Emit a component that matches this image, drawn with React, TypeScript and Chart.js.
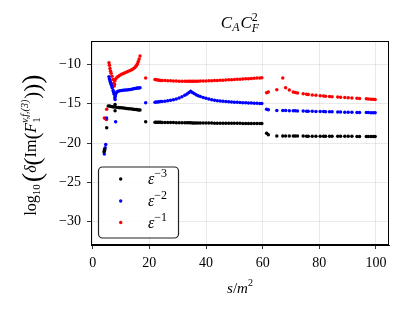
import React, { useEffect, useRef } from "react";
import { Chart, registerables } from "chart.js";

Chart.register(...registerables);

// ---------- data ----------
// near-threshold points (per series)
const thrBlackS = [4.0, 4.2, 4.94, 5.5, 6.0, 6.5, 7.0, 7.5, 7.9, 7.9, 8.3, 9.0, 9.6, 10.2, 10.8, 11.4, 12.0, 12.6, 13.2, 13.8, 14.4, 14.9, 15.4, 15.8, 16.3, 16.7];
const thrBlackY = [-21.1, -20.8, -18.05, -15.3, -15.3, -15.35, -15.38, -15.4, -15.1, -15.9, -15.45, -15.48, -15.5, -15.52, -15.55, -15.58, -15.6, -15.63, -15.65, -15.68, -15.7, -15.72, -15.74, -15.76, -15.78, -15.8];

const thrBlueS = [4.1, 4.2, 4.4, 4.6, 4.9, 5.75, 5.9, 6.1, 6.3, 6.5, 6.7, 6.9, 7.2, 7.4, 7.6, 7.8, 7.9, 8.0, 8.2, 8.5, 9.0, 9.6, 10.2, 10.8, 11.4, 12.0, 12.6, 13.2, 13.8, 14.4, 14.9, 15.4, 15.8, 16.3, 16.7, 8.1];
const thrBlueY = [-21.4, -21.0, -20.6, -20.2, -16.8, -11.56, -11.85, -12.1, -12.3, -12.5, -12.75, -12.96, -13.3, -13.55, -13.8, -14.2, -14.45, -14.0, -13.7, -13.5, -13.4, -13.35, -13.3, -13.28, -13.26, -13.23, -13.2, -13.17, -13.14, -13.1, -13.05, -13.02, -13.0, -12.98, -12.96, -17.3];

const thrRedS = [4.1, 4.5, 4.9, 4.94, 5.75, 5.9, 6.1, 6.3, 6.5, 6.8, 7.1, 7.4, 7.6, 7.7, 7.8, 7.9, 8.3, 8.7, 9.1, 9.6, 10.2, 10.8, 11.4, 12.0, 12.6, 13.2, 13.8, 14.3, 14.8, 15.2, 15.5, 15.8, 16.1, 16.4, 16.7];
const thrRedY = [-16.8, -16.9, -17.0, -15.7, -9.78, -10.1, -10.5, -10.85, -11.1, -11.5, -11.9, -12.4, -12.75, -12.5, -12.1, -11.9, -11.75, -11.6, -11.5, -11.38, -11.25, -11.15, -11.05, -10.95, -10.85, -10.75, -10.65, -10.55, -10.4, -10.25, -10.1, -9.9, -9.6, -9.3, -8.9];

// main region, 18 < s/m^2 < 60
const sMainA = [18.7, 22, 22.5, 23, 23.5, 24, 24.5, 25.5, 26.5, 27.5, 28.5, 29.5, 30.5, 31.5, 32.5, 33.3, 34, 34.6, 35.2, 35.8, 36.5, 37.2, 38, 39, 40, 41, 42, 43, 44, 45, 46, 47, 48, 49, 50, 51, 52, 53, 54, 55, 56, 57, 58, 59, 59.7];
const redA = [-11.7, -11.92, -11.95, -11.97, -12.0, -12.02, -12.03, -12.05, -12.07, -12.08, -12.1, -12.1, -12.12, -12.12, -12.13, -12.13, -12.13, -12.13, -12.13, -12.13, -12.12, -12.12, -12.11, -12.1, -12.09, -12.08, -12.06, -12.05, -12.03, -12.01, -11.99, -11.97, -11.95, -11.93, -11.9, -11.88, -11.86, -11.84, -11.82, -11.8, -11.78, -11.76, -11.73, -11.71, -11.68];
const blueA = [-14.87, -14.8, -14.78, -14.76, -14.74, -14.72, -14.7, -14.67, -14.62, -14.56, -14.48, -14.38, -14.25, -14.1, -13.93, -13.75, -13.55, -13.4, -13.55, -13.7, -13.85, -13.97, -14.08, -14.2, -14.3, -14.4, -14.48, -14.54, -14.6, -14.65, -14.69, -14.72, -14.75, -14.78, -14.8, -14.82, -14.84, -14.86, -14.88, -14.9, -14.91, -14.93, -14.94, -14.95, -14.96];
const blackA = [-17.3, -17.35, -17.36, -17.36, -17.37, -17.37, -17.38, -17.38, -17.39, -17.4, -17.4, -17.41, -17.41, -17.42, -17.42, -17.43, -17.43, -17.43, -17.44, -17.44, -17.44, -17.45, -17.45, -17.45, -17.46, -17.46, -17.46, -17.47, -17.47, -17.47, -17.48, -17.48, -17.48, -17.48, -17.49, -17.49, -17.49, -17.5, -17.5, -17.5, -17.5, -17.51, -17.51, -17.51, -17.52];

// main region, s/m^2 > 60
const sMainB = [61.4, 62, 65, 67.1, 68.1, 69.4, 70.8, 71.5, 72.3, 74.3, 75.5, 76.1, 77.5, 78.8, 80.3, 81.5, 82.2, 83.6, 84.5, 86.5, 87.5, 89, 90.2, 91.5, 93.3, 94.2, 96.6, 97.3, 98.2, 99, 99.7];
const redB = [-13.6, -13.5, -13.2, -11.7, -12.96, -13.26, -13.5, -13.55, -13.62, -13.72, -13.78, -13.82, -13.88, -13.93, -13.98, -14.02, -14.04, -14.08, -14.1, -14.15, -14.18, -14.21, -14.23, -14.26, -14.3, -14.32, -14.37, -14.39, -14.41, -14.43, -14.45];
const blueB = [-15.7, -15.75, -15.85, -15.86, -15.87, -15.88, -15.89, -15.9, -15.91, -15.93, -15.94, -15.95, -15.96, -15.98, -15.99, -16.0, -16.01, -16.02, -16.03, -16.05, -16.06, -16.07, -16.08, -16.09, -16.1, -16.11, -16.12, -16.12, -16.13, -16.13, -16.14];
const blackB = [-18.77, -18.95, -19.1, -19.1, -19.1, -19.11, -19.11, -19.12, -19.12, -19.12, -19.13, -19.13, -19.13, -19.13, -19.14, -19.14, -19.14, -19.14, -19.14, -19.15, -19.15, -19.15, -19.15, -19.15, -19.16, -19.16, -19.16, -19.16, -19.16, -19.17, -19.17];

const xTicks = [0, 20, 40, 60, 80, 100];
const yTicks = [-30, -25, -20, -15, -10];
const seriesExp = ["\u22123", "\u22122", "\u22121"];
const seriesColors = ["#000000", "#0000ff", "#ff0000"];

function pts(xs: number[], ys: number[]) {
  return xs.map((x, i) => ({ x, y: ys[i] }));
}

const SERIF = "'Liberation Serif', 'DejaVu Serif', serif";

type Run = { t: string; size: number; italic?: boolean; dy?: number; back?: boolean; gap?: number };

function layoutRuns(ctx: CanvasRenderingContext2D, runs: Run[]) {
  let cx = 0;
  let prevStart = 0;
  let prevW = 0;
  const out: { r: Run; x: number }[] = [];
  for (const r of runs) {
    ctx.font = `${r.italic ? "italic " : ""}${r.size}px ${SERIF}`;
    const rw = ctx.measureText(r.t).width;
    if (r.back) {
      out.push({ r, x: prevStart });
      cx = prevStart + Math.max(prevW, rw) + (r.gap || 0);
    } else {
      const sx = cx + (r.gap || 0);
      out.push({ r, x: sx });
      prevStart = sx;
      prevW = rw;
      cx = sx + rw;
    }
  }
  return { out, width: cx };
}

function drawRuns(ctx: CanvasRenderingContext2D, runs: Run[], x: number, y: number, center = false) {
  const { out, width } = layoutRuns(ctx, runs);
  const x0 = center ? x - width / 2 : x;
  for (const o of out) {
    ctx.font = `${o.r.italic ? "italic " : ""}${o.r.size}px ${SERIF}`;
    ctx.fillText(o.r.t, x0 + o.x, y + (o.r.dy || 0));
  }
}

const decor = {
  id: "decor",
  afterDraw(chart: any) {
    const ctx: CanvasRenderingContext2D = chart.ctx;
    const a = chart.chartArea;
    ctx.save();
    // frame
    ctx.strokeStyle = "#000";
    ctx.lineWidth = 1;
    ctx.strokeRect(a.left + 0.5, a.top + 0.5, a.right - a.left - 1, a.bottom - a.top - 1);

    ctx.fillStyle = "#000";
    ctx.textBaseline = "alphabetic";
    const cxm = (a.left + a.right) / 2;

    // title
    drawRuns(ctx, [
      { t: "C", size: 17, italic: true },
      { t: "A", size: 12, italic: true, dy: 3 },
      { t: "C", size: 17, italic: true, gap: 1 },
      { t: "F", size: 12, italic: true, dy: 4 },
      { t: "2", size: 12, dy: -7, back: true },
    ], cxm, 28, true);

    // x label
    drawRuns(ctx, [
      { t: "s", size: 15, italic: true },
      { t: "/", size: 15 },
      { t: "m", size: 15, italic: true },
      { t: "2", size: 10, dy: -7 },
    ], cxm, 293, true);

    // y label
    ctx.save();
    ctx.translate(36, 145);
    ctx.rotate(-Math.PI / 2);
    drawRuns(ctx, [
      { t: "log", size: 16 },
      { t: "10", size: 11, dy: 4 },
      { t: "(", size: 28, dy: 5, gap: 2 },
      { t: "\u03B4", size: 16, italic: true },
      { t: "(", size: 24, dy: 4 },
      { t: "Im", size: 16 },
      { t: "(", size: 21, dy: 3 },
      { t: "F", size: 16, italic: true },
      { t: "1", size: 11, dy: 4 },
      { t: "v,f,(3)", size: 10, italic: true, dy: -8, back: true },
      { t: ")", size: 21, dy: 3, gap: 1 },
      { t: ")", size: 24, dy: 4 },
      { t: ")", size: 28, dy: 5 },
    ], 0, 0, true);
    ctx.restore();

    // legend
    const lx = 98.5, ly = 167, lw = 80, lh = 71, r = 4;
    ctx.beginPath();
    ctx.moveTo(lx + r, ly);
    ctx.lineTo(lx + lw - r, ly);
    ctx.arcTo(lx + lw, ly, lx + lw, ly + r, r);
    ctx.lineTo(lx + lw, ly + lh - r);
    ctx.arcTo(lx + lw, ly + lh, lx + lw - r, ly + lh, r);
    ctx.lineTo(lx + r, ly + lh);
    ctx.arcTo(lx, ly + lh, lx, ly + lh - r, r);
    ctx.lineTo(lx, ly + r);
    ctx.arcTo(lx, ly, lx + r, ly, r);
    ctx.closePath();
    ctx.fillStyle = "rgba(255,255,255,0.85)";
    ctx.fill();
    ctx.strokeStyle = "#222";
    ctx.lineWidth = 1.2;
    ctx.stroke();

    const rows = [179, 201, 222.5];
    for (let i = 0; i < 3; i++) {
      ctx.fillStyle = seriesColors[i];
      ctx.beginPath();
      ctx.arc(120.7, rows[i], 1.7, 0, Math.PI * 2);
      ctx.fill();
      ctx.fillStyle = "#000";
      drawRuns(ctx, [
        { t: "\u03B5", size: 16, italic: true },
        { t: seriesExp[i], size: 12, dy: -7 },
      ], 148, rows[i] + 5);
    }
    ctx.restore();
  },
};

export default function App() {
  const ref = useRef<HTMLCanvasElement | null>(null);
  useEffect(() => {
    if (!ref.current) return;
    const mk = (label: string, data: any[], color: string) => ({
      label,
      data,
      showLine: false,
      pointRadius: 1.75,
      pointBorderWidth: 0,
      pointBackgroundColor: color,
      pointBorderColor: color,
      backgroundColor: color,
      borderColor: color,
    });
    const chart = new Chart(ref.current, {
      type: "scatter",
      data: {
        datasets: [
          mk("eps-3", [...pts(thrBlackS, thrBlackY), ...pts(sMainA, blackA), ...pts(sMainB, blackB)], seriesColors[0]),
          mk("eps-2", [...pts(thrBlueS, thrBlueY), ...pts(sMainA, blueA), ...pts(sMainB, blueB)], seriesColors[1]),
          mk("eps-1", [...pts(thrRedS, thrRedY), ...pts(sMainA, redA), ...pts(sMainB, redB)], seriesColors[2]),
        ],
      },
      options: {
        responsive: false,
        animation: false,
        events: [],
        layout: { padding: { left: 0, right: 21, top: 41, bottom: 0 } },
        plugins: { legend: { display: false }, tooltip: { enabled: false }, title: { display: false } },
        scales: {
          x: {
            type: "linear",
            min: -0.6,
            max: 104.6,
            afterFit: (s: any) => { s.height = 68; },
            afterBuildTicks: (s: any) => { s.ticks = xTicks.map((v) => ({ value: v })); },
            grid: { color: "rgba(0,0,0,0.11)", lineWidth: 0.8, tickColor: "#000", tickLength: 4, drawTicks: true },
            border: { display: true, color: "#000", width: 1 },
            ticks: { color: "#000", font: { family: SERIF, size: 14 }, padding: 6, maxRotation: 0, callback: (v: any) => String(v) },
          },
          y: {
            type: "linear",
            min: -33,
            max: -7,
            afterFit: (s: any) => { s.width = 91; },
            afterBuildTicks: (s: any) => { s.ticks = yTicks.map((v) => ({ value: v })); },
            grid: { color: "rgba(0,0,0,0.11)", lineWidth: 0.8, tickColor: "#000", tickLength: 4, drawTicks: true },
            border: { display: true, color: "#000", width: 1 },
            ticks: { color: "#000", font: { family: SERIF, size: 14 }, padding: 6, callback: (v: any) => String(v).replace("-", "\u2212") },
          },
        },
      } as any,
      plugins: [decor],
    });
    return () => chart.destroy();
  }, []);
  return (
    <div style={{ position: "fixed", left: 0, top: 0, width: 410, height: 313, background: "#fff" }}>
      <canvas ref={ref} width={410} height={313} style={{ width: 410, height: 313, display: "block" }} />
    </div>
  );
}
